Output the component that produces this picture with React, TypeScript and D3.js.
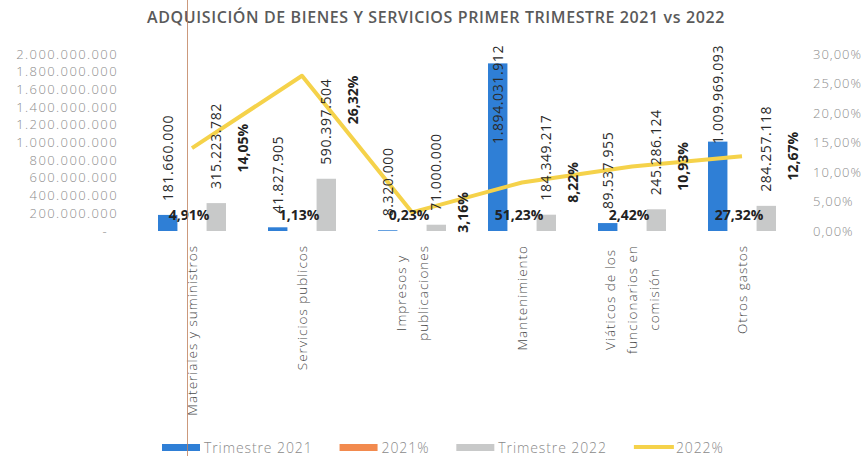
import React, { useEffect, useRef } from 'react';
import * as d3 from 'd3';

const categories = [
  'Materiales y suministros',
  'Servicios publicos',
  'Impresos y\npublicaciones',
  'Mantenimiento',
  'Viáticos de los\nfuncionarios en\ncomisión',
  'Otros gastos',
];
const trimestre2021 = [181660000, 41827905, 8320000, 1894031912, 89537955, 1009969093];
const pct2021 = [0.0491, 0.0113, 0.0023, 0.5123, 0.0242, 0.2732];
const trimestre2022 = [315223782, 590397504, 71000000, 184349217, 245286124, 284257118];
const pct2022 = [0.1405, 0.2632, 0.0316, 0.0822, 0.1093, 0.1267];

const leftTicks = [0, 200000000, 400000000, 600000000, 800000000, 1000000000, 1200000000, 1400000000, 1600000000, 1800000000, 2000000000];
const rightTicks = [0, 0.05, 0.1, 0.15, 0.2, 0.25, 0.3];
const legendItems = ['Trimestre 2021', '2021%', 'Trimestre 2022', '2022%'];
const title = 'ADQUISICIÓN DE BIENES Y SERVICIOS PRIMER TRIMESTRE 2021 vs 2022';

const es = d3.formatLocale({ decimal: ',', thousands: '.', grouping: [3], currency: ['', ''] });
const fmtNum = es.format(',.0f');
const fmtPct = es.format('.2%');

const BLUE = '#2f7fd6';
const ORANGE = '#f28a4e';
const GRAY = '#c8c9c9';
const YELLOW = '#f5d24a';
const FONT = "'Open Sans', sans-serif";

const Chart = () => {
  const ref = useRef<SVGSVGElement>(null);

  useEffect(() => {
    const width = 867;
    const height = 456;
    const svg = d3.select(ref.current).attr('width', width).attr('height', height);
    svg.selectAll('*').remove();

    const left = 137, right = 797, top = 54, bottom = 231;

    const x0 = d3.scaleBand().domain(categories).range([left, right]).padding(0);
    const x1 = d3.scaleBand().domain(['2021', '2021%', '2022']).range([21, 89]).paddingInner(0.2);
    const yL = d3.scaleLinear().domain([0, 2000000000]).range([bottom, top]);
    const yR = d3.scaleLinear().domain([0, 0.3]).range([bottom, top]);
    const cx = (c) => x0(c) + x0.bandwidth() / 2;

    // title
    svg.append('text')
      .attr('x', 436).attr('y', 23)
      .attr('text-anchor', 'middle')
      .style('font-family', FONT).style('font-size', '16px').style('font-weight', 600)
      .style('letter-spacing', '0.6px')
      .style('fill', '#5a5a5a')
      .text(title);

    // left axis labels
    svg.append('g').selectAll('text')
      .data(leftTicks).enter().append('text')
      .attr('x', (d) => (d === 0 ? 108 : 118))
      .attr('y', (d) => yL(d))
      .attr('dy', '0.35em')
      .attr('text-anchor', 'end')
      .style('font-family', FONT).style('font-size', '13px').style('font-weight', 300)
      .style('letter-spacing', '1.4px').style('fill', '#8c8c8c')
      .text((d) => (d === 0 ? '-' : fmtNum(d)));

    // right axis labels
    svg.append('g').selectAll('text')
      .data(rightTicks).enter().append('text')
      .attr('x', 813)
      .attr('y', (d) => yR(d))
      .attr('dy', '0.35em')
      .style('font-family', FONT).style('font-size', '13px').style('font-weight', 300)
      .style('letter-spacing', '1px').style('fill', '#8c8c8c')
      .text((d) => fmtPct(d));

    // bars
    const groups = svg.append('g').selectAll('g')
      .data(categories).enter().append('g')
      .attr('transform', (c) => `translate(${x0(c)},0)`);

    groups.append('rect')
      .attr('x', x1('2021')).attr('width', x1.bandwidth())
      .attr('y', (_, i) => yL(trimestre2021[i]))
      .attr('height', (_, i) => bottom - yL(trimestre2021[i]))
      .attr('fill', BLUE);

    groups.append('rect')
      .attr('x', x1('2021%')).attr('width', x1.bandwidth())
      .attr('y', (_, i) => yL(pct2021[i]))
      .attr('height', (_, i) => bottom - yL(pct2021[i]))
      .attr('fill', ORANGE);

    groups.append('rect')
      .attr('x', x1('2022')).attr('width', x1.bandwidth())
      .attr('y', (_, i) => yL(trimestre2022[i]))
      .attr('height', (_, i) => bottom - yL(trimestre2022[i]))
      .attr('fill', GRAY);

    // line 2022%
    const line = d3.line().x((d) => d[0]).y((d) => d[1]);
    const pts = categories.map((c, i) => [cx(c), yR(pct2022[i])]);
    svg.append('path')
      .attr('d', line(pts))
      .attr('fill', 'none')
      .attr('stroke', YELLOW)
      .attr('stroke-width', 4)
      .attr('stroke-linejoin', 'round');

    const labels = svg.append('g');

    // rotated value labels on the bars
    const barLabel = (x, barTop, txt) => {
      const t = labels.append('text')
        .attr('dy', '0.35em')
        .style('font-family', FONT).style('font-size', '14px')
        .style('letter-spacing', '0.6px').style('fill', '#2b2b2b')
        .text(txt);
      const len = t.node().getComputedTextLength();
      let start = barTop - 14;
      if (start - len < 45) start = 45 + len;
      t.attr('transform', `translate(${x},${start}) rotate(-90)`);
    };
    categories.forEach((c, i) => {
      barLabel(x0(c) + x1('2021') + x1.bandwidth() / 2, yL(trimestre2021[i]), fmtNum(trimestre2021[i]));
      barLabel(x0(c) + x1('2022') + x1.bandwidth() / 2, yL(trimestre2022[i]), fmtNum(trimestre2022[i]));
    });

    // 2021% labels
    labels.selectAll('.p21')
      .data(categories).enter().append('text')
      .attr('class', 'p21')
      .attr('x', (c) => x0(c) + x1('2021%') + x1.bandwidth() / 2 - 3)
      .attr('y', (_, i) => yL(pct2021[i]) - 11)
      .attr('text-anchor', 'middle')
      .style('font-family', FONT).style('font-size', '14px').style('font-weight', 700)
      .style('fill', '#222')
      .text((_, i) => fmtPct(pct2021[i]));

    // 2022% labels
    labels.selectAll('.p22')
      .data(categories).enter().append('text')
      .attr('class', 'p22')
      .attr('text-anchor', 'middle')
      .attr('dy', '0.35em')
      .attr('transform', (c, i) => `translate(${cx(c) + 51},${Math.max(yR(pct2022[i]), top + 46)}) rotate(-90)`)
      .style('font-family', FONT).style('font-size', '14px').style('font-weight', 700)
      .style('fill', '#222')
      .text((_, i) => fmtPct(pct2022[i]));

    // category labels
    const catG = svg.append('g');
    categories.forEach((c) => {
      const lines = c.split('\n');
      const texts = lines.map((ln) => catG.append('text')
        .attr('text-anchor', 'middle')
        .attr('dy', '0.35em')
        .style('font-family', FONT).style('font-size', '13.5px').style('font-weight', 300)
        .style('letter-spacing', '1px').style('fill', '#4a4a4a')
        .text(ln));
      const maxLen = d3.max(texts, (t) => t.node().getComputedTextLength());
      texts.forEach((t, j) => {
        const lx = cx(c) + (j - (lines.length - 1) / 2) * 22;
        t.attr('transform', `translate(${lx},${245 + maxLen / 2}) rotate(-90)`);
      });
    });

    // legend
    const colors = [BLUE, ORANGE, GRAY, YELLOW];
    let lx = 162;
    legendItems.forEach((name, i) => {
      if (i === 3) {
        svg.append('line')
          .attr('x1', lx).attr('x2', lx + 40).attr('y1', 447).attr('y2', 447)
          .attr('stroke', colors[i]).attr('stroke-width', 4);
      } else {
        svg.append('rect')
          .attr('x', lx).attr('y', 444).attr('width', 38).attr('height', 7)
          .attr('fill', colors[i]);
      }
      const t = svg.append('text')
        .attr('x', lx + 42).attr('y', 448).attr('dy', '0.35em')
        .style('font-family', FONT).style('font-size', '14px').style('font-weight', 300)
        .style('letter-spacing', '0.9px').style('fill', '#8a8a8a')
        .text(name);
      lx += 42 + t.node().getComputedTextLength() + 27;
    });

    // scan artifact line
    svg.append('line')
      .attr('x1', 187.5).attr('x2', 187.5).attr('y1', 0).attr('y2', height)
      .attr('stroke', '#c0805c').attr('stroke-width', 1).attr('opacity', 0.8);
  }, []);

  return <svg ref={ref} style={{ position: 'absolute', left: 0, top: 0, background: '#fff' }} />;
};

export default function App() {
  return <Chart />;
}
